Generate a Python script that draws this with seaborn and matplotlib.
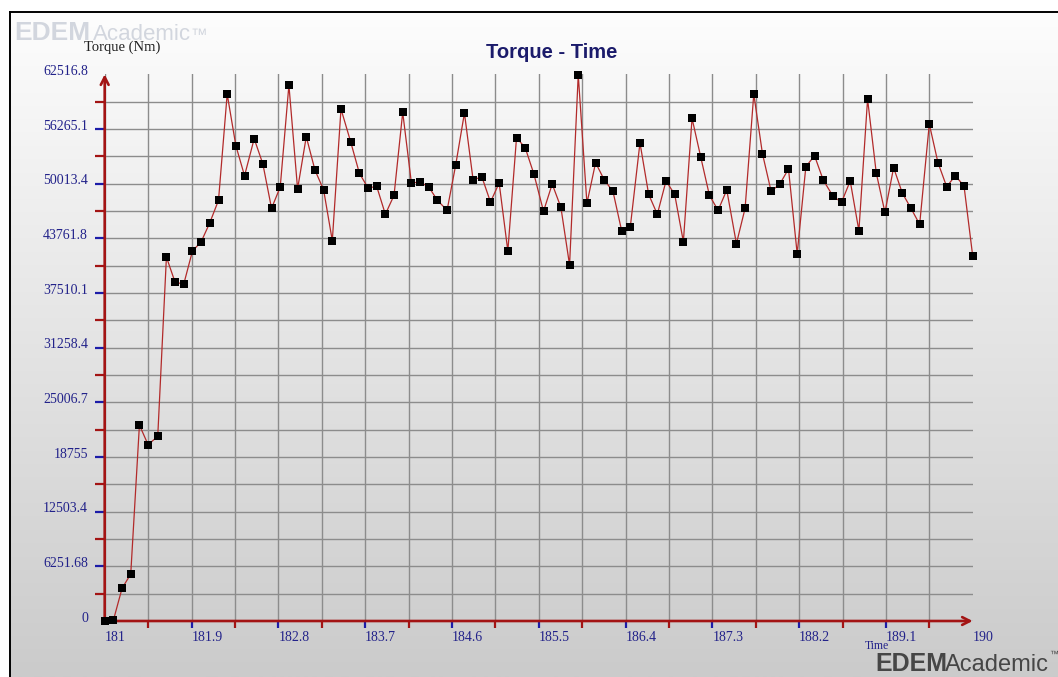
import numpy as np
import pandas as pd
import matplotlib
matplotlib.use("Agg")
import matplotlib.pyplot as plt
import matplotlib.transforms as mtransforms
from matplotlib.colors import LinearSegmentedColormap
import seaborn as sns

# ---------------- data ----------------
time_s = [
    181.00, 181.09, 181.18, 181.27, 181.36, 181.45, 181.55, 181.64, 181.73, 181.82,
    181.91, 182.00, 182.09, 182.18, 182.27, 182.36, 182.45, 182.55, 182.64, 182.73,
    182.82, 182.91, 183.00, 183.09, 183.18, 183.27, 183.36, 183.45, 183.55, 183.64,
    183.73, 183.82, 183.91, 184.00, 184.09, 184.18, 184.27, 184.36, 184.45, 184.55,
    184.64, 184.73, 184.82, 184.91, 185.00, 185.09, 185.18, 185.27, 185.36, 185.45,
    185.55, 185.64, 185.73, 185.82, 185.91, 186.00, 186.09, 186.18, 186.27, 186.36,
    186.45, 186.55, 186.64, 186.73, 186.82, 186.91, 187.00, 187.09, 187.18, 187.27,
    187.36, 187.45, 187.55, 187.64, 187.73, 187.82, 187.91, 188.00, 188.09, 188.18,
    188.27, 188.36, 188.45, 188.55, 188.64, 188.73, 188.82, 188.91, 189.00, 189.09,
    189.18, 189.27, 189.36, 189.45, 189.55, 189.64, 189.73, 189.82, 189.91, 190.00,
]
torque_nm = [
    0, 80, 3740, 5370, 22410, 20160, 21120, 41620, 38730, 38540,
    42310, 43360, 45550, 48110, 60260, 54350, 50920, 55150, 52260, 47190,
    49630, 61290, 49400, 55380, 51570, 49290, 43490, 58550, 54810, 51230,
    49510, 49710, 46510, 48680, 58170, 50090, 50200, 49630, 48110, 46960,
    52180, 58090, 50430, 50810, 47910, 50090, 42310, 55270, 54120, 51120,
    46850, 49970, 47310, 40710, 62470, 47760, 52410, 50430, 49130, 44630,
    45090, 54690, 48790, 46510, 50320, 48790, 43370, 57480, 53060, 48680,
    46960, 49290, 43150, 47190, 60260, 53440, 49130, 49970, 51690, 42000,
    51950, 53210, 50430, 48600, 47880, 50320, 44630, 59690, 51230, 46730,
    51840, 48940, 47190, 45360, 56830, 52410, 49670, 50920, 49740, 41740,
]
x_tick_values = [181, 181.9, 182.8, 183.7, 184.6, 185.5, 186.4, 187.3, 188.2, 189.1, 190]
x_tick_labels = ["181", "181.9", "182.8", "183.7", "184.6", "185.5", "186.4",
                 "187.3", "188.2", "189.1", "190"]
y_tick_values = [0, 6251.68, 12503.4, 18755, 25006.7, 31258.4, 37510.1,
                 43761.8, 50013.4, 56265.1, 62516.8]
y_tick_labels = ["0", "6251.68", "12503.4", "18755", "25006.7", "31258.4",
                 "37510.1", "43761.8", "50013.4", "56265.1", "62516.8"]

# ---------------- styling ----------------
plt.rcParams["font.family"] = ["Liberation Serif", "DejaVu Serif"]
AXIS_RED = "#a31414"
TICK_BLUE = "#1c1ca8"
LABEL_BLUE = "#22228a"
LINE_RED = "#b22a2a"

W, H = 1058, 677
fig = plt.figure(figsize=(W / 100, H / 100), dpi=100)
fig.patch.set_facecolor("white")

# gradient background panel with black top/left border
bg = fig.add_axes([10 / W, 0, 1 - 10 / W, 1 - 12 / H], zorder=0)
grad = np.linspace(0, 1, 256).reshape(-1, 1)
cmap = LinearSegmentedColormap.from_list("g", ["#fdfdfd", "#cbcbcb"])
bg.imshow(grad, aspect="auto", cmap=cmap, extent=[0, 1, 0, 1], origin="upper")
bg.set_xticks([])
bg.set_yticks([])
for side in ["right", "bottom"]:
    bg.spines[side].set_visible(False)
for side in ["top", "left"]:
    bg.spines[side].set_color("black")
    bg.spines[side].set_linewidth(1.4)

# main plot axes
ax = fig.add_axes([104.7 / W, 1 - 621 / H, 868 / W, (621 - 74.3) / H], zorder=1)
ax.patch.set_alpha(0)

df = pd.DataFrame({"Time": time_s, "Torque": torque_nm})
sns.lineplot(data=df, x="Time", y="Torque", ax=ax, color=LINE_RED, linewidth=0.9,
             marker="s", markersize=5.2, markerfacecolor="black",
             markeredgecolor="black", markeredgewidth=0, zorder=5, clip_on=False)

ax.set_xlim(x_tick_values[0], x_tick_values[-1])
ax.set_ylim(y_tick_values[0], y_tick_values[-1])
ax.set_xlabel("")
ax.set_ylabel("")

ax.set_xticks(x_tick_values)
ax.set_xticklabels(x_tick_labels)
ax.set_yticks(y_tick_values)
ax.set_yticklabels(y_tick_labels)
xv = np.array(x_tick_values)
yv = np.array(y_tick_values)
ax.set_xticks((xv[:-1] + xv[1:]) / 2, minor=True)
ax.set_yticks((yv[:-1] + yv[1:]) / 2, minor=True)

ax.tick_params(axis="x", which="major", direction="out", length=5.2, width=1.6,
               color=TICK_BLUE, labelcolor=LABEL_BLUE, labelsize=10, pad=2)
ax.tick_params(axis="x", which="minor", direction="out", length=5.2, width=1.6,
               color=AXIS_RED)
ax.tick_params(axis="y", which="major", direction="out", length=7.5, width=1.6,
               color=TICK_BLUE, labelcolor=LABEL_BLUE, labelsize=10, pad=4.6)
ax.tick_params(axis="y", which="minor", direction="out", length=7.5, width=1.6,
               color=AXIS_RED)

ax.grid(which="both", color="#8c8c8c", linewidth=1.0)
ax.set_axisbelow(True)

xt = ax.xaxis.get_major_ticks()
yt = ax.yaxis.get_major_ticks()
for t in (xt[0], xt[-1]):
    t.tick1line.set_visible(False)
for t in (yt[0], yt[-1]):
    t.tick1line.set_visible(False)
xt[-1].gridline.set_visible(False)
yt[-1].gridline.set_visible(False)

plt.setp(ax.get_xticklabels(), ha="left")
offset = mtransforms.ScaledTranslation(0, 3 / 72, fig.dpi_scale_trans)
for lab in ax.get_yticklabels():
    lab.set_transform(lab.get_transform() + offset)

for s in ax.spines.values():
    s.set_visible(False)

arrow_kw = dict(arrowstyle="->,head_length=0.55,head_width=0.28", color=AXIS_RED,
                lw=1.9, shrinkA=0, shrinkB=0)
ax.annotate("", xy=(1.0, 0), xytext=(0, 0), xycoords="axes fraction",
            arrowprops=arrow_kw, zorder=4, annotation_clip=False)
ax.annotate("", xy=(0, 1.0), xytext=(0, 0), xycoords="axes fraction",
            arrowprops=arrow_kw, zorder=4, annotation_clip=False)

# ---------------- texts ----------------
fig.text(552 / W, 1 - 53 / H, "Torque - Time", ha="center", va="center",
         fontsize=14.5, fontweight="bold", family="Liberation Sans", color="#1b1b6b")
fig.text(84 / W, 1 - 47 / H, "Torque (Nm)", ha="left", va="center",
         fontsize=10.5, color="#222222")
fig.text(865 / W, 1 - 646 / H, "Time", ha="left", va="center",
         fontsize=8.5, color=LABEL_BLUE, zorder=3)

# watermark logos
fig.text(14 / W, 1 - 40 / H, "EDEM", ha="left", va="baseline", fontsize=19,
         fontweight="bold", family="Liberation Sans", color="#d2d6de")
fig.text(93 / W, 1 - 40 / H, "Academic", ha="left", va="baseline", fontsize=16,
         family="Liberation Sans", color="#d2d6de")
fig.text(190 / W, 1 - 40 / H, "™", ha="left", va="baseline", fontsize=12,
         family="Liberation Sans", color="#d2d6de")

fig.text(875 / W, 1 - 671 / H, "EDEM", ha="left", va="baseline", fontsize=18,
         fontweight="bold", family="Liberation Sans", color="#464646", zorder=2)
fig.text(945 / W, 1 - 671 / H, "Academic", ha="left", va="baseline", fontsize=17,
         family="Liberation Sans", color="#464646", zorder=2)
fig.text(1049 / W, 1 - 657 / H, "™", ha="left", va="baseline", fontsize=6.5,
         family="Liberation Sans", color="#464646", zorder=2)

fig.savefig("out.png", dpi=100)
